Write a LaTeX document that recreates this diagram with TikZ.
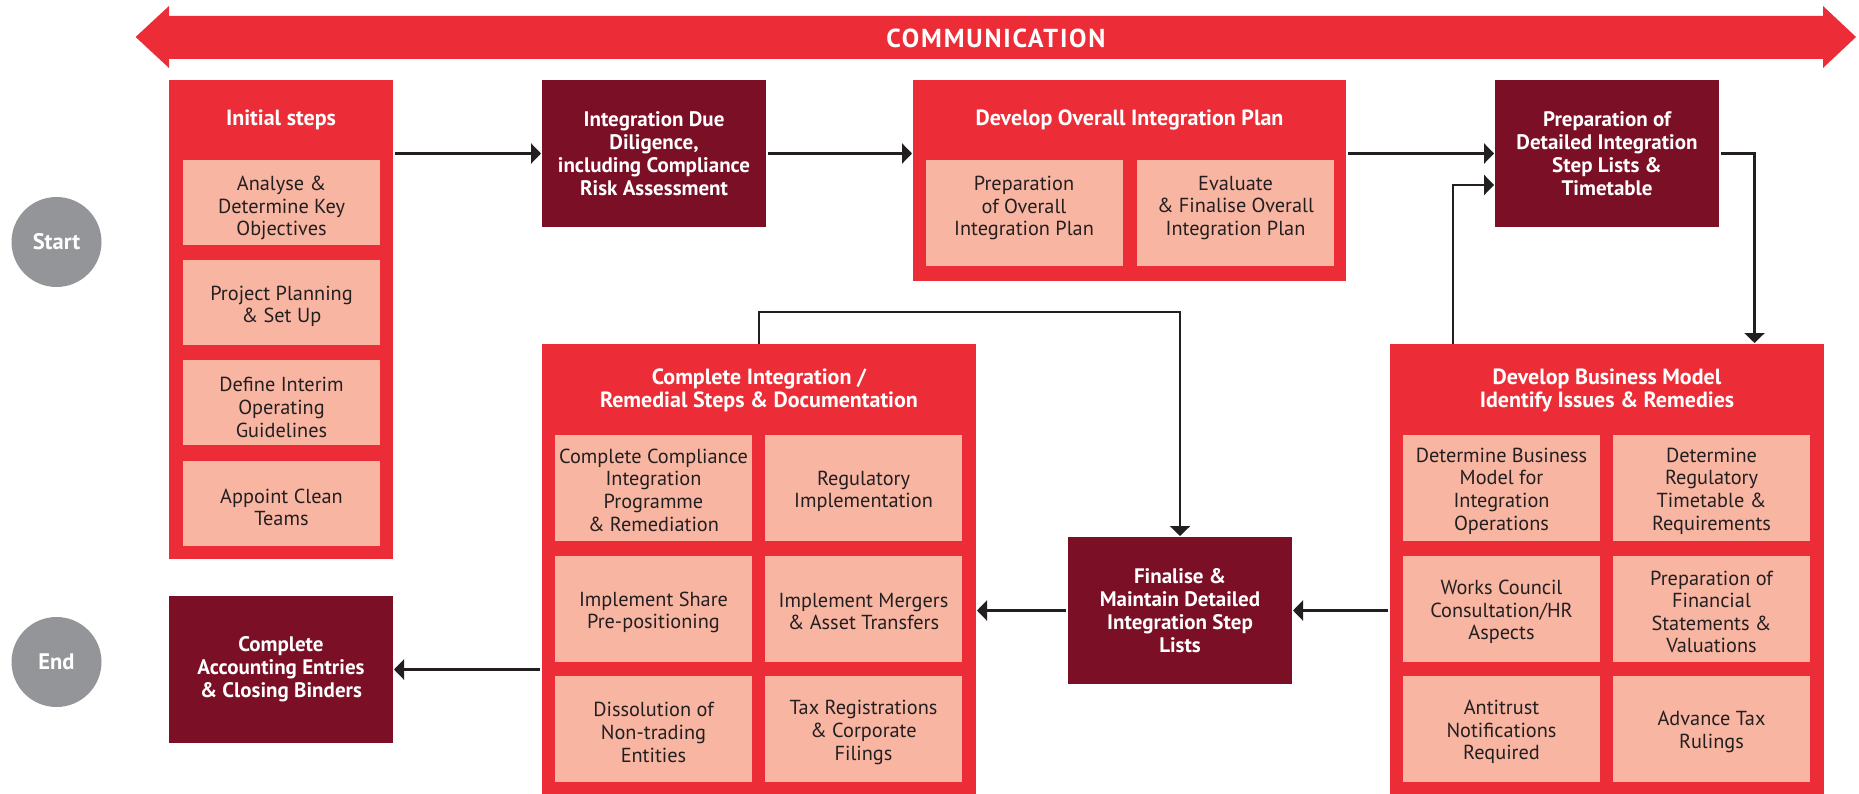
\documentclass[tikz,border=0pt]{standalone}
\usepackage{fontspec}
\setmainfont{PT Sans}
\usetikzlibrary{arrows.meta}
\definecolor{kred}{HTML}{EC2D37}
\definecolor{kmaroon}{HTML}{7B0F25}
\definecolor{ksalmon}{HTML}{F7B5A2}
\definecolor{kgrey}{HTML}{939598}
\definecolor{ktext}{HTML}{231F20}
% sub box: [box options]{name}{position}{text}{text shift}
\newcommand\kbox[5][]{%
  \node[subbox,#1] (#2) at (#3) {};
  \node[subtext] (#2t) at ([yshift=#5]#2.center) {#4};}
\begin{document}
\begin{tikzpicture}[x=1pt,y=-1pt,
  box/.style={rectangle, draw=none, inner sep=0pt, outer sep=0pt},
  redbox/.style={box, fill=kred},
  darkbox/.style={box, fill=kmaroon, text=white, align=center,
    font=\bfseries\fontsize{21}{22.8}\selectfont, minimum width=224pt, minimum height=147pt},
  subbox/.style={box, fill=ksalmon, minimum width=197pt, minimum height=106pt},
  subtext/.style={text=ktext, align=center, inner sep=0pt, font=\fontsize{20.3}{22.6}\selectfont},
  boxtitle/.style={text=white, align=center, inner sep=0pt, font=\bfseries\fontsize{22}{23}\selectfont},
  startend/.style={circle, fill=kgrey, minimum size=90pt, inner sep=0pt, text=white,
    font=\bfseries\fontsize{22.5}{24}\selectfont},
  conn/.style={draw=ktext, line width=2.4pt, shorten <=2pt, shorten >=1pt,
    -{Triangle[length=10pt,width=20pt]}}
]
\useasboundingbox (0,0) rectangle (1859,794);

% communication band
\fill[kred] (135.6,37) -- (169,6) -- (169,16) -- (1823,16) -- (1823,6) -- (1856,37)
  -- (1823,68) -- (1823,59) -- (169,59) -- (169,68) -- cycle;
\node[text=white, inner sep=0pt, font=\bfseries\fontsize{26}{28}\selectfont\addfontfeature{LetterSpace=7}] (comm) at (996,38) {COMMUNICATION};

% start / end
\node[startend] (start) at (56.5,242) {Start};
\node[startend] (end) at (56.5,662) {End};

% Initial steps
\node[redbox, minimum width=224pt, minimum height=479pt] (init) at (281,319.5) {};
\node[boxtitle] (initt) at (281,120) {Initial steps};
\kbox[minimum height=85pt]{i1}{281.5,202.5}{Analyse \&\\Determine Key\\Objectives}{-5.5pt}
\kbox[minimum height=85pt]{i2}{281.5,302.5}{Project Planning\\\& Set Up}{-4pt}
\kbox[minimum height=85pt]{i3}{281.5,402.5}{Define Interim\\Operating\\Guidelines}{-5pt}
\kbox[minimum height=85pt]{i4}{281.5,503.5}{Appoint Clean\\Teams}{-4pt}

% dark boxes
\node[darkbox] (idd) at (654,153.5) {Integration Due\\Diligence,\\including Compliance\\Risk Assessment};
\node[darkbox] (pdisl) at (1607,153.5) {Preparation of\\Detailed Integration\\Step Lists \&\\Timetable};
\node[darkbox] (fmd) at (1180,610.5) {Finalise \&\\Maintain Detailed\\Integration Step\\Lists};
\node[darkbox] (cae) at (281,669.5) {Complete\\Accounting Entries\\\& Closing Binders};

% Develop overall integration plan
\node[redbox, minimum width=433pt, minimum height=201pt] (doip) at (1129.5,180.5) {};
\node[boxtitle] (doipt) at (1129.5,120) {Develop Overall Integration Plan};
\kbox{d1}{1024,213}{Preparation\\of Overall\\Integration Plan}{5pt}
\kbox{d2}{1235.5,213}{Evaluate\\\& Finalise Overall\\Integration Plan}{5pt}

% Complete integration
\node[redbox, minimum width=434pt, minimum height=450pt] (cir) at (759,569) {};
\node[boxtitle] (cirt) at (759,390) {Complete Integration /\\Remedial Steps \& Documentation};
\kbox{c1}{653.5,488}{Complete Compliance\\Integration\\Programme\\\& Remediation}{-2pt}
\kbox{c2}{863.5,488}{Regulatory\\Implementation}{-3.5pt}
\kbox{c3}{653.5,609}{Implement Share\\Pre-positioning}{-3.5pt}
\kbox{c4}{863.5,609}{Implement Mergers\\\& Asset Transfers}{-2.5pt}
\kbox{c5}{653.5,729}{Dissolution of\\Non-trading\\Entities}{-3.5pt}
\kbox{c6}{863.5,729}{Tax Registrations\\\& Corporate\\Filings}{-3.5pt}

% Develop business model
\node[redbox, minimum width=434pt, minimum height=450pt] (dbm) at (1607,569) {};
\node[boxtitle] (dbmt) at (1607,390) {Develop Business Model\\Identify Issues \& Remedies};
\kbox{b1}{1501.5,488}{Determine Business\\Model for\\Integration\\Operations}{-3pt}
\kbox{b2}{1711.5,488}{Determine\\Regulatory\\Timetable \&\\Requirements}{-3pt}
\kbox{b3}{1501.5,609}{Works Council\\Consultation/HR\\Aspects}{-3pt}
\kbox{b4}{1711.5,609}{Preparation of\\Financial\\Statements \&\\Valuations}{-3pt}
\kbox{b5}{1501.5,729}{Antitrust\\Notifications\\Required}{-3pt}
\kbox{b6}{1711.5,729}{Advance Tax\\Rulings}{-3pt}

% connectors
\draw[conn] (init.east |- idd.west) -- (idd.west);
\draw[conn] (idd.east) -- (doip.west |- idd.east);
\draw[conn] (doip.east |- pdisl.west) -- (pdisl.west);
\draw[conn] (pdisl.east) -| ([xshift=147.5pt]dbm.north);
\draw[conn, shorten <=0pt] ([xshift=-154pt]dbm.north) |- ([yshift=-31.5pt]pdisl.west);
\draw[conn, shorten <=0pt] (cir.north) -- ++(0,-32) -| (fmd.north);
\draw[conn] (dbm.west |- fmd.east) -- (fmd.east);
\draw[conn] (fmd.west) -- (cir.east |- fmd.west);
\draw[conn] (cir.west |- cae.east) -- (cae.east);
\end{tikzpicture}
\end{document}
